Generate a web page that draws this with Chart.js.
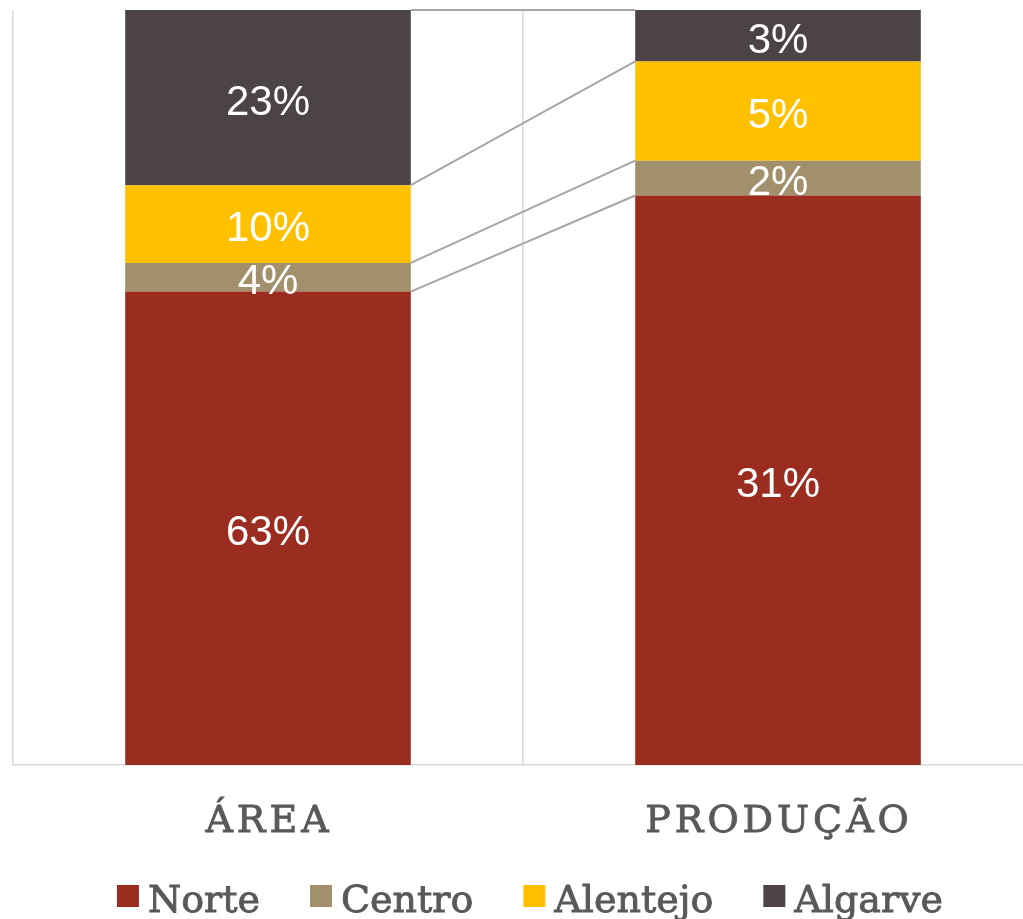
<!DOCTYPE html>
<html><head><meta charset="utf-8">
<script src="https://cdn.jsdelivr.net/npm/chart.js@4"></script>
<style>html,body{margin:0;padding:0;overflow:hidden;background:#fff;width:1023px;height:919px}canvas{display:block}</style>
</head><body>
<canvas id="c" width="1040" height="919"></canvas>
<script>
const categories = ['ÁREA', 'PRODUÇÃO'];
const seriesNames = ['Norte', 'Centro', 'Alentejo', 'Algarve'];
const norte = [62.7, 31.0];
const centro = [3.8, 1.9];
const alentejo = [10.3, 5.4];
const algarve = [23.2, 2.8];
const colors = ['#9A2D1F', '#A28F6B', '#FFC000', '#4B4344'];

const raw = [norte, centro, alentejo, algarve];
const totals = categories.map((_, i) => raw.reduce((s, a) => s + a[i], 0));
const datasets = raw.map((vals, k) => ({
  label: seriesNames[k],
  rawValues: vals,
  data: vals.map((v, i) => v / totals[i] * 100),
  backgroundColor: colors[k],
  borderWidth: 0,
  barPercentage: 0.56,
  categoryPercentage: 1
}));

const TEXT_GREY = '#595959';
const SERIF = '"DejaVu Serif", serif';
const SERIF_SIZE = 38;

function serifText(ctx, txt, x, y) {
  ctx.fillText(txt, x, y);
  ctx.lineWidth = 0.9;
  ctx.strokeStyle = ctx.fillStyle;
  ctx.strokeText(txt, x, y);
}

const overlay = {
  id: 'overlay',
  afterDatasetsDraw(chart) {
    const ctx = chart.ctx;
    // series lines
    ctx.save();
    ctx.strokeStyle = '#A6A6A6';
    ctx.lineWidth = 2;
    chart.data.datasets.forEach((ds, k) => {
      const m = chart.getDatasetMeta(k);
      const a = m.data[0], b = m.data[1];
      ctx.beginPath();
      ctx.moveTo(a.x + a.width / 2, a.y);
      ctx.lineTo(b.x - b.width / 2, b.y);
      ctx.stroke();
    });
    ctx.restore();
    // data labels
    ctx.save();
    ctx.fillStyle = '#FFFFFF';
    ctx.font = '42px "Liberation Sans", Arial, sans-serif';
    ctx.textAlign = 'center';
    ctx.textBaseline = 'alphabetic';
    chart.data.datasets.forEach((ds, k) => {
      const m = chart.getDatasetMeta(k);
      m.data.forEach((el, i) => {
        const cy = (el.y + el.base) / 2;
        ctx.fillText(Math.round(ds.rawValues[i]) + '%', el.x, cy + 17);
      });
    });
    ctx.restore();
  },
  afterDraw(chart) {
    const ctx = chart.ctx;
    const area = chart.chartArea;
    const xs = chart.scales.x;
    // category labels
    ctx.save();
    ctx.fillStyle = TEXT_GREY;
    ctx.font = SERIF_SIZE + 'px ' + SERIF;
    ctx.letterSpacing = '4px';
    ctx.textAlign = 'center';
    ctx.textBaseline = 'alphabetic';
    categories.forEach((c, i) => {
      serifText(ctx, c, xs.getPixelForValue(i) + 1, area.bottom + 67);
    });
    ctx.restore();
    // legend
    ctx.save();
    ctx.font = SERIF_SIZE + 'px ' + SERIF;
    ctx.textBaseline = 'alphabetic';
    ctx.textAlign = 'left';
    const box = 22, gapText = 9, gapItem = 50;
    const widths = chart.data.datasets.map(ds => box + gapText + ctx.measureText(ds.label).width);
    const total = widths.reduce((s, w) => s + w, 0) + gapItem * (widths.length - 1);
    let x = 530 - total / 2;
    const base = area.bottom + 147;
    chart.data.datasets.forEach((ds, k) => {
      ctx.fillStyle = ds.backgroundColor;
      ctx.fillRect(x, base - 27, box, box);
      ctx.fillStyle = TEXT_GREY;
      serifText(ctx, ds.label, x + box + gapText, base);
      x += widths[k] + gapItem;
    });
    ctx.restore();
  }
};

new Chart(document.getElementById('c'), {
  type: 'bar',
  data: { labels: categories, datasets },
  options: {
    responsive: false,
    animation: false,
    devicePixelRatio: 1,
    layout: { padding: { left: 13, right: 7, top: 10, bottom: 154 } },
    plugins: { legend: { display: false }, tooltip: { enabled: false } },
    scales: {
      x: {
        stacked: true,
        grid: { offset: true, color: '#D9D9D9', lineWidth: 1.5, drawTicks: false },
        border: { color: '#D9D9D9', width: 1.5 },
        ticks: { display: false }
      },
      y: { stacked: true, display: false, min: 0, max: 100 }
    }
  },
  plugins: [overlay]
});
</script>
</body></html>
